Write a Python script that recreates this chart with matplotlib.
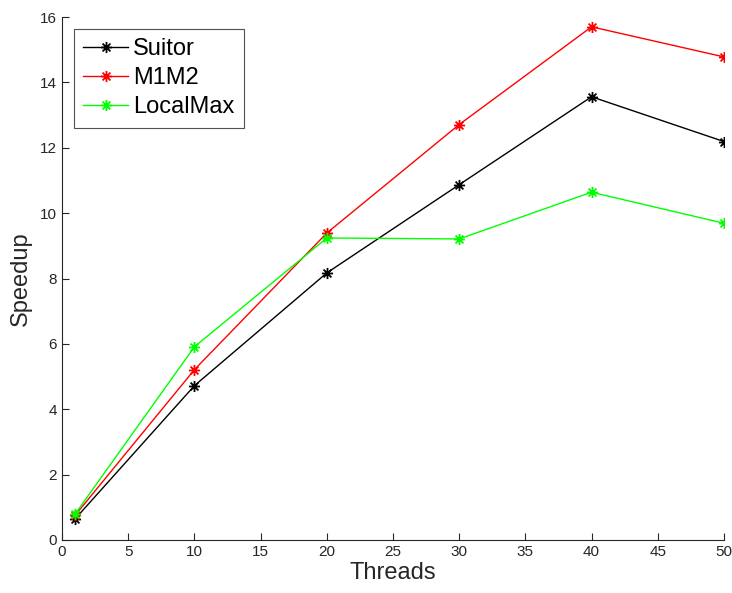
import matplotlib
matplotlib.use("Agg")
import matplotlib.pyplot as plt
from matplotlib.path import Path
import numpy as np

threads = [1, 10, 20, 30, 40, 50]
suitor = [0.65, 4.72, 8.17, 10.87, 13.56, 12.19]
m1m2 = [0.76, 5.21, 9.39, 12.71, 15.70, 14.78]
localmax = [0.80, 5.91, 9.24, 9.21, 10.64, 9.69]

# Octave-style asterisk marker (+ combined with x)
d = 0.7071
star = Path([(-1, 0), (1, 0), (0, -1), (0, 1), (-d, -d), (d, d), (-d, d), (d, -d)],
            [Path.MOVETO, Path.LINETO] * 4)

plt.rcParams['font.family'] = ['Liberation Sans', 'DejaVu Sans']
fig = plt.figure(figsize=(7.32, 5.93), dpi=100)
ax = fig.add_axes([0.0847, 0.0894, 0.9043, 0.8819])

for ys, c, lab in [(suitor, 'black', 'Suitor'), (m1m2, 'red', 'M1M2'), (localmax, '#00ff00', 'LocalMax')]:
    ax.plot(threads, ys, color=c, marker=star, markersize=8, markeredgewidth=1.3,
            linewidth=1, label=lab)

ax.set_xlim(0, 50)
ax.set_ylim(0, 16)
ax.set_xticks(range(0, 51, 5))
ax.set_yticks(range(0, 17, 2))
for s in ['top', 'right']:
    ax.spines[s].set_visible(False)
for s in ['left', 'bottom']:
    ax.spines[s].set_color('#262626')
ax.tick_params(direction='in', colors='#262626', labelsize=11, length=5)
ax.set_xlabel('Threads', fontsize=17, color='#262626', labelpad=2)
ax.set_ylabel('Speedup', fontsize=17, color='#262626', labelpad=6)

leg = ax.legend(loc='upper left', fontsize=17, frameon=True, fancybox=False,
                edgecolor='#262626', handlelength=1.9, borderaxespad=0.5,
                handletextpad=0.2, labelspacing=0.3, borderpad=0.4)
leg.get_frame().set_linewidth(0.8)

fig.savefig('out.png', dpi=100)
